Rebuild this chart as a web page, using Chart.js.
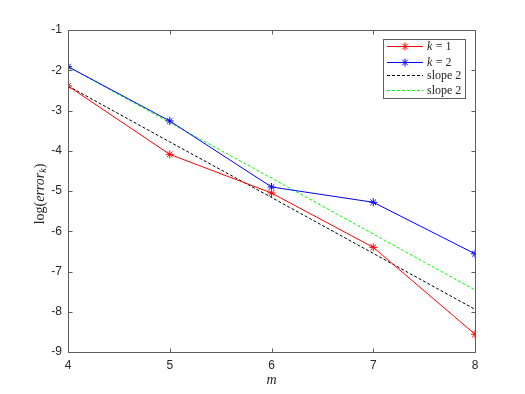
<!DOCTYPE html>
<html><head><meta charset="utf-8">
<script src="https://cdn.jsdelivr.net/npm/chart.js@4.4.0/dist/chart.umd.min.js"></script>
<style>html,body{margin:0;padding:0;background:#fff}#wrap{width:525px;height:394px}</style>
</head><body><div id="wrap"><canvas id="c" width="525" height="394"></canvas></div>
<script>
const categories = [4, 5, 6, 7, 8];
const errorK1 = [-2.39, -4.09, -5.05, -6.40, -8.56];
const errorK2 = [-1.91, -3.26, -4.90, -5.28, -6.56];
const slopeRefA = [-2.39, -3.78, -5.16, -6.55, -7.94];
const slopeRefB = [-1.91, -3.30, -4.68, -6.07, -7.46];
const xTicks = [4, 5, 6, 7, 8];
const yTicks = [-9, -8, -7, -6, -5, -4, -3, -2, -1];
const seriesNames = ['k = 1', 'k = 2', 'slope 2', 'slope 2'];

const pts = arr => categories.map((x, i) => ({x: x, y: arr[i]}));
const AX = '#5e5e5e', TXT = '#262626';

const boxPlugin = {
  id: 'matlabBox',
  afterDraw(chart) {
    const {ctx, chartArea: a, scales} = chart;
    ctx.save();
    ctx.strokeStyle = AX; ctx.lineWidth = 1;
    const L = Math.round(a.left) + 0.5, R = Math.round(a.right) + 0.5,
          T = Math.round(a.top) + 0.5, B = Math.round(a.bottom) + 0.5;
    ctx.strokeRect(L, T, R - L, B - T);
    ctx.beginPath();
    yTicks.forEach(v => {
      const y = Math.round(scales.y.getPixelForValue(v)) + 0.5;
      ctx.moveTo(L, y); ctx.lineTo(L + 4, y);
      ctx.moveTo(R, y); ctx.lineTo(R - 4, y);
    });
    xTicks.forEach(v => {
      const x = Math.round(scales.x.getPixelForValue(v)) + 0.5;
      ctx.moveTo(x, B); ctx.lineTo(x, B - 4);
      ctx.moveTo(x, T); ctx.lineTo(x, T + 4);
    });
    ctx.stroke();

    // x title
    ctx.fillStyle = TXT;
    ctx.font = 'italic 14px "Liberation Serif"';
    ctx.textAlign = 'center'; ctx.textBaseline = 'middle';
    ctx.fillText('m', (a.left + a.right) / 2, 380);

    // y title: log(error_k)
    ctx.translate(40, 194);
    ctx.rotate(-Math.PI / 2);
    const parts = [
      ['14px "Liberation Serif"', 'log(', 0],
      ['italic 14px "Liberation Serif"', 'error', 0],
      ['italic 10px "Liberation Serif"', 'k', 3],
      ['14px "Liberation Serif"', ')', 0]
    ];
    let w = 0;
    parts.forEach(p => { ctx.font = p[0]; w += ctx.measureText(p[1]).width; });
    let x = -w / 2;
    ctx.textAlign = 'left'; ctx.textBaseline = 'middle';
    parts.forEach(p => { ctx.font = p[0]; ctx.fillText(p[1], x, p[2]); x += ctx.measureText(p[1]).width; });
    ctx.restore();

    // legend
    ctx.save();
    const lx = 383.5, ly = 39.5, lw = 82, lh = 59;
    ctx.fillStyle = '#fff'; ctx.fillRect(lx, ly, lw, lh);
    ctx.strokeStyle = AX; ctx.lineWidth = 1; ctx.strokeRect(lx, ly, lw, lh);
    const rows = [46, 62, 75, 90];
    const ds = chart.data.datasets;
    rows.forEach((ry, i) => {
      const d = ds[i];
      ctx.strokeStyle = d.borderColor; ctx.lineWidth = 1;
      ctx.setLineDash(d.borderDash || []);
      ctx.beginPath(); ctx.moveTo(387, ry + 0.5); ctx.lineTo(423, ry + 0.5); ctx.stroke();
      ctx.setLineDash([]);
      if (d.pointRadius > 0) {
        const r = 4, cx = 405, cy = ry + 0.5;
        ctx.beginPath();
        ctx.moveTo(cx - r, cy); ctx.lineTo(cx + r, cy);
        ctx.moveTo(cx, cy - r); ctx.lineTo(cx, cy + r);
        const q = r * 0.7071;
        ctx.moveTo(cx - q, cy - q); ctx.lineTo(cx + q, cy + q);
        ctx.moveTo(cx - q, cy + q); ctx.lineTo(cx + q, cy - q);
        ctx.stroke();
      }
      ctx.fillStyle = TXT; ctx.textBaseline = 'middle'; ctx.textAlign = 'left';
      const name = seriesNames[i];
      if (name.startsWith('k')) {
        ctx.font = 'italic 12px "Liberation Serif"';
        ctx.fillText('k', 427, ry + 1);
        const kw = ctx.measureText('k').width;
        ctx.font = '12px "Liberation Serif"';
        ctx.fillText(name.slice(1).replace(/ /g, '\u2005'), 427 + kw + 0.5, ry + 1);
      } else {
        ctx.font = '12px "Liberation Serif"';
        ctx.fillText(name, 427, ry + 1);
      }
    });
    ctx.restore();
  }
};

new Chart(document.getElementById('c'), {
  type: 'line',
  data: {
    datasets: [
      {label: seriesNames[0], data: pts(errorK1), borderColor: '#ff0000', backgroundColor: '#ff0000',
       borderWidth: 1, pointStyle: 'star', pointRadius: 4, pointBorderWidth: 1, pointBorderColor: '#ff0000'},
      {label: seriesNames[1], data: pts(errorK2), borderColor: '#0000ff', backgroundColor: '#0000ff',
       borderWidth: 1, pointStyle: 'star', pointRadius: 4, pointBorderWidth: 1, pointBorderColor: '#0000ff'},
      {label: seriesNames[2], data: pts(slopeRefA), borderColor: '#000000', borderWidth: 1,
       borderDash: [3, 2], pointRadius: 0},
      {label: seriesNames[3], data: pts(slopeRefB), borderColor: '#00ff00', borderWidth: 1,
       borderDash: [3, 2], pointRadius: 0}
    ]
  },
  options: {
    responsive: false, animation: false,
    layout: {padding: {left: 0, right: 50, top: 30, bottom: 0}},
    plugins: {legend: {display: false}, tooltip: {enabled: false}},
    scales: {
      x: {type: 'linear', min: 4, max: 8,
          afterBuildTicks: s => { s.ticks = xTicks.map(v => ({value: v})); },
          afterFit: s => { s.height = 42; },
          grid: {display: false, drawTicks: false}, border: {display: false},
          ticks: {padding: 6, color: TXT, font: {family: '"Liberation Sans"', size: 12}}},
      y: {type: 'linear', min: -9, max: -1,
          afterBuildTicks: s => { s.ticks = yTicks.map(v => ({value: v})); },
          afterFit: s => { s.width = 68; },
          grid: {display: false, drawTicks: false}, border: {display: false},
          ticks: {padding: 6, color: TXT, font: {family: '"Liberation Sans"', size: 12}}}
    }
  },
  plugins: [boxPlugin]
});
</script></body></html>
